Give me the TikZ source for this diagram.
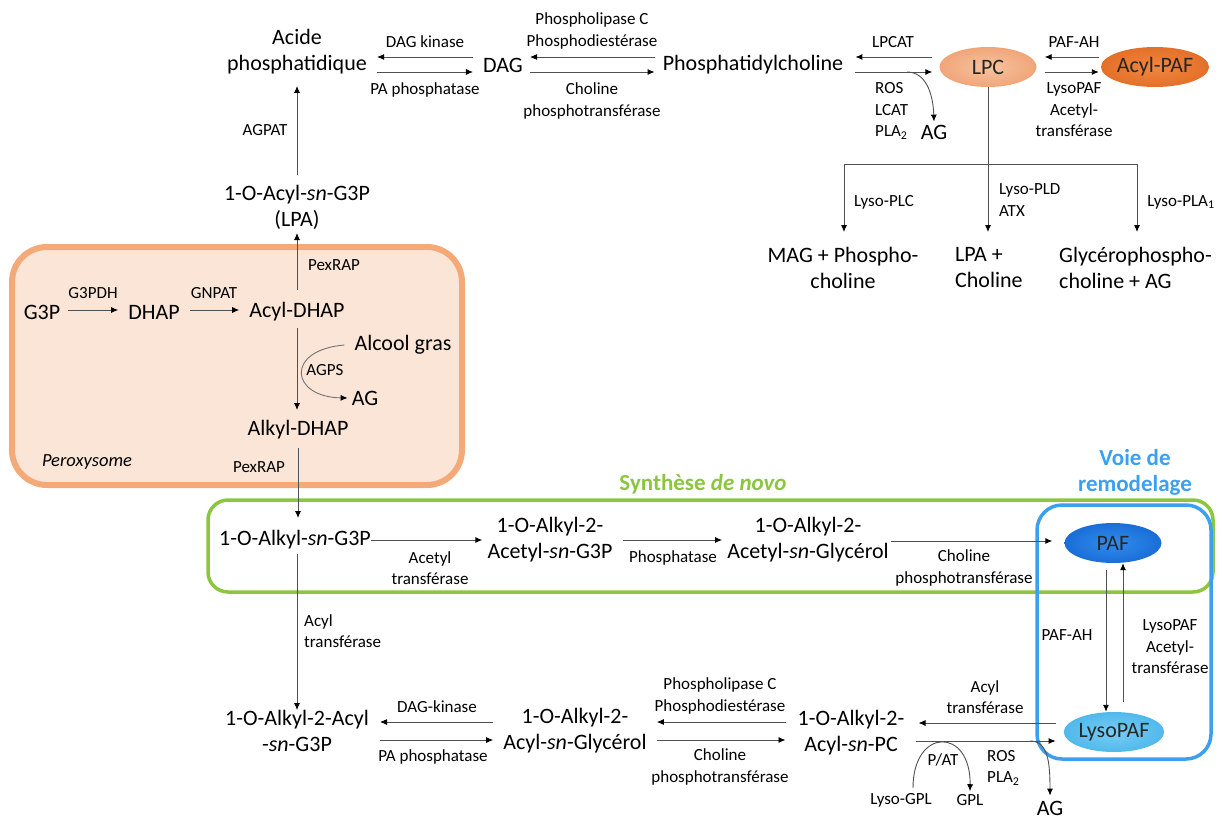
\documentclass[tikz,border=0pt]{standalone}
\usepackage{fontspec}
\setmainfont{Carlito}
\usetikzlibrary{arrows.meta,shapes.geometric}
\definecolor{pfill}{RGB}{251,229,214}
\definecolor{pedge}{RGB}{244,170,120}
\definecolor{grn}{RGB}{140,198,63}
\definecolor{blu}{RGB}{59,160,240}
\definecolor{lpcI}{RGB}{247,196,160}
\definecolor{lpcO}{RGB}{240,165,120}
\definecolor{apI}{RGB}{240,135,65}
\definecolor{apO}{RGB}{228,112,40}
\definecolor{pafI}{RGB}{50,140,235}
\definecolor{pafO}{RGB}{25,110,215}
\definecolor{lpI}{RGB}{120,205,245}
\definecolor{lpO}{RGB}{80,185,235}
\definecolor{arrC}{RGB}{80,80,80}
\begin{document}
\begin{tikzpicture}[x=1pt,y=-1pt,
  big/.style={font=\fontsize{22}{26}\selectfont, inner sep=0pt, align=center},
  sm/.style={font=\fontsize{17}{21.5}\selectfont, inner sep=0pt, align=center},
  ttl/.style={font=\fontsize{23}{26}\selectfont\bfseries, inner sep=0pt, align=center},
  arr/.style={draw=arrC, line width=0.9pt, -{Latex[length=7pt,width=6pt,color=black]}},
  ln/.style={draw=arrC, line width=0.9pt},
  ell/.style={ellipse, minimum width=97pt, minimum height=40pt, inner sep=0pt, font=\fontsize{22}{26}\selectfont, text=black!85},
  lpcst/.style={ell, inner color=lpcI, outer color=lpcO},
  apst/.style={ell, inner color=apI, outer color=apO},
  pafst/.style={ell, inner color=pafI, outer color=pafO},
  lpst/.style={ell, inner color=lpI, outer color=lpO},
]
\useasboundingbox (0,0) rectangle (1222,821);

% regions
\node[draw=pedge, fill=pfill, line width=6pt, rounded corners=35pt, minimum width=450pt, minimum height=238pt, inner sep=0pt] (perox) at (237,366) {};
\node[draw=grn, line width=3.5pt, rounded corners=20pt, minimum width=1005pt, minimum height=92pt, inner sep=0pt] (novo) at (710.5,546) {};
\node[draw=blu, line width=3.5pt, rounded corners=25pt, minimum width=174pt, minimum height=254pt, inner sep=0pt] (remod) at (1124,632) {};
\node[ttl, text=grn] (tnovo) at (703,484) {Synthèse \textit{de novo}};
\node[ttl, text=blu] (tremod) at (1135,472) {Voie de\\remodelage};

% top row
\node[big] (AP) at (297,52) {Acide\\phosphatidique};
\node[big] (DAG) at (503,65) {DAG};
\node[big] (PC) at (753,65) {Phosphatidylcholine};
\node[lpcst] (LPC) at (988,67) {LPC};
\node[apst] (APAF) at (1155,67) {Acyl-PAF};
\node[sm] (l1) at (425,42) {DAG kinase};
\node[sm] (l2) at (425,90) {PA phosphatase};
\node[sm] (l3) at (592,31) {Phospholipase C\\Phosphodiestérase};
\node[sm] (l4) at (592,101) {Choline\\phosphotransférase};
\node[sm] (l5) at (893,42) {LPCAT};
\node[sm, align=left, anchor=west] (l6) at (875,111) {ROS\\LCAT\\PLA\textsubscript{2}};
\node[big] (AG1) at (934,132) {AG};
\node[sm] (l7) at (1074,42) {PAF-AH};
\node[sm] (l8) at (1074,110) {LysoPAF\\Acetyl-\\transférase};

\draw[arr, shorten <=10pt, shorten >=10pt] (DAG.west |- 0,57) -- (AP.east |- 0,57);
\draw[arr, shorten <=10pt, shorten >=10pt] (AP.east |- 0,72) -- (DAG.west |- 0,72);
\draw[arr, shorten <=8pt, shorten >=7pt] (PC.west |- 0,57) -- (DAG.east |- 0,57);
\draw[arr, shorten <=7pt, shorten >=8pt] (DAG.east |- 0,72) -- (PC.west |- 0,72);
\draw[arr, shorten <=7pt, shorten >=12pt] (LPC.west |- 0,57) -- (PC.east |- 0,57);
\draw[arr, shorten <=12pt, shorten >=7pt] (PC.east |- 0,72) -- (LPC.west |- 0,72);
\draw[arr, shorten <=2pt, shorten >=8pt] (APAF.west |- 0,57) -- (LPC.east |- 0,57);
\draw[arr, shorten <=8pt, shorten >=2pt] (LPC.east |- 0,72) -- (APAF.west |- 0,72);
\coordinate (pcst) at (907,72);
\draw[arr] (pcst) .. controls (925,72) and (933,92) .. ([yshift=3pt]AG1.north);

% LPC branches
\coordinate (bM) at (988,164);
\coordinate (bL) at (844,164);
\coordinate (bR) at (1137,164);
\node[big] (MAG) at (843,268) {MAG + Phospho-\\choline};
\node[big, align=left, anchor=west] (LPAc) at (955,268) {LPA +\\Choline};
\node[big, align=left, anchor=west] (GPC) at (1059,268) {Glycérophospho-\\choline + AG};
\draw[ln] (LPC.south) -- (bM);
\draw[ln] (bL) -- (bR);
\draw[arr] (bL) -- (bL |- 0,232);
\draw[arr] (bM) -- (bM |- 0,232);
\draw[arr] (bR) -- (bR |- 0,232);
\node[sm] (l9) at (884,202) {Lyso-PLC};
\node[sm, align=left, anchor=west] (l10) at (999,200) {Lyso-PLD\\ATX};
\node[sm] (l11) at (1181,202) {Lyso-PLA\textsubscript{1}};

% left column
\node[big] (LPA) at (297,207) {1-O-Acyl-\textit{sn}-G3P\\(LPA)};
\draw[arr] (LPA.north |- 0,175) -- (AP.south |- 0,86);
\node[sm] (l12) at (265,130) {AGPAT};

% peroxysome
\node[big] (G3P) at (42,312) {G3P};
\node[big] (DHAP) at (154,312) {DHAP};
\node[big] (ADHAP) at (297,312) {Acyl-DHAP};
\draw[arr, shorten <=8pt, shorten >=10pt] (G3P.east |- 0,310) -- (DHAP.west |- 0,310);
\draw[arr, shorten <=10pt, shorten >=10pt] (DHAP.east |- 0,310) -- (ADHAP.west |- 0,310);
\node[sm] (l13) at (93,293) {G3PDH};
\node[sm] (l14) at (214,293) {GNPAT};
\draw[arr] (ADHAP.north |- 0,290) -- (LPA.south |- 0,233);
\node[sm] (l15) at (334,265) {PexRAP};
\node[big] (ALDHAP) at (298,430) {Alkyl-DHAP};
\draw[arr] (ADHAP.south |- 0,328) -- (ADHAP.south |- 0,410);
\node[big] (ALC) at (403,345) {Alcool gras};
\node[sm] (l16) at (325,370) {AGPS};
\node[big] (AG2) at (365,398) {AG};
\draw[arr, draw=black!55] ([xshift=-10pt]ALC.west) .. controls (285,350) and (290,397) .. ([xshift=-4pt]AG2.west);
\node[font=\fontsize{18.5}{22}\selectfont\itshape, inner sep=0pt] (l17) at (87,462) {Peroxysome};
\node[sm] (l18) at (259,467) {PexRAP};

% row 2
\node[big] (ALG3P) at (295,540) {1-O-Alkyl-\textit{sn}-G3P};
\draw[arr] (ALDHAP.south |- 0,448) -- (ALDHAP.south |- 0,518);
\node[big] (AAG3P) at (550,540) {1-O-Alkyl-2-\\Acetyl-\textit{sn}-G3P};
\node[big] (AAGly) at (808,540) {1-O-Alkyl-2-\\Acetyl-\textit{sn}-Glycérol};
\node[pafst] (PAF) at (1113,543) {PAF};
\draw[arr, shorten <=0pt, shorten >=5pt] (ALG3P.east |- 0,540) -- (AAG3P.west |- 0,540);
\draw[arr, shorten <=10pt, shorten >=5pt] (AAG3P.east |- 0,540) -- (AAGly.west |- 0,540);
\draw[arr, shorten <=2pt, shorten >=12pt] (AAGly.east |- 0,541) -- (PAF.west |- 0,541);
\node[sm] (l19) at (430,568) {Acetyl\\transférase};
\node[sm] (l20) at (673,558) {Phosphatase};
\node[sm] (l21) at (964,568) {Choline\\phosphotransférase};

% remodelling
\node[lpst] (LPAF) at (1114,732) {LysoPAF};
\draw[arr] (PAF.south -| 1106,0) ++(0,7) -- (LPAF.north -| 1106,0);
\draw[arr] (LPAF.north -| 1123,0) ++(0,-10) -- (PAF.south -| 1123,0);
\node[sm] (l22) at (1067,635) {PAF-AH};
\node[sm] (l23) at (1170,647) {LysoPAF\\Acetyl-\\transférase};

% row 3
\node[big] (AAcG3P) at (297,731) {1-O-Alkyl-2-Acyl\\-\textit{sn}-G3P};
\node[big] (AAGly2) at (575,731) {1-O-Alkyl-2-\\Acyl-\textit{sn}-Glycérol};
\node[big] (AAPC) at (851,733) {1-O-Alkyl-2-\\Acyl-\textit{sn}-PC};
\draw[arr] (ALG3P.south -| 297,0) ++(0,4) -- (AAcG3P.north -| 297,0);
\node[sm, align=left, anchor=west] (l24) at (304,631) {Acyl\\transférase};
\draw[arr, shorten <=10pt, shorten >=11pt] (AAGly2.west |- 0,722) -- (AAcG3P.east |- 0,722);
\draw[arr, shorten <=11pt, shorten >=10pt] (AAcG3P.east |- 0,740) -- (AAGly2.west |- 0,740);
\node[sm] (l25) at (437,707) {DAG-kinase};
\node[sm] (l26) at (433,757) {PA phosphatase};
\draw[arr, shorten <=12pt, shorten >=10pt] (AAPC.west |- 0,722) -- (AAGly2.east |- 0,722);
\draw[arr, shorten <=10pt, shorten >=12pt] (AAGly2.east |- 0,740) -- (AAPC.west |- 0,740);
\node[sm] (l27) at (720,696) {Phospholipase C\\Phosphodiestérase};
\node[sm] (l28) at (720,767) {Choline\\phosphotransférase};
\draw[arr, shorten <=8pt, shorten >=14pt] (LPAF.west |- 0,723) -- (AAPC.east |- 0,723);
\draw[arr, shorten <=11pt, shorten >=8pt] (AAPC.east |- 0,741) -- (LPAF.west |- 0,741);
\node[sm] (l29) at (985,697) {Acyl\\transférase};
\node[sm] (LGPL) at (901,800) {Lyso-GPL};
\node[sm] (GPL) at (970,800) {GPL};
\node[sm] (l30) at (943,760) {P/AT};
\draw[arr] ([xshift=12pt,yshift=5pt]LGPL.north) .. controls (913,727) and (971,727) .. ([yshift=3pt]GPL.north);
\node[sm, align=left, anchor=west] (l31) at (987,768) {ROS\\PLA\textsubscript{2}};
\node[big] (AG3) at (1050,808) {AG};
\coordinate (agst) at (1030,741);
\draw[arr] (agst) .. controls (1048,741) and (1050,762) .. ([yshift=5pt]AG3.north);
\end{tikzpicture}
\end{document}
